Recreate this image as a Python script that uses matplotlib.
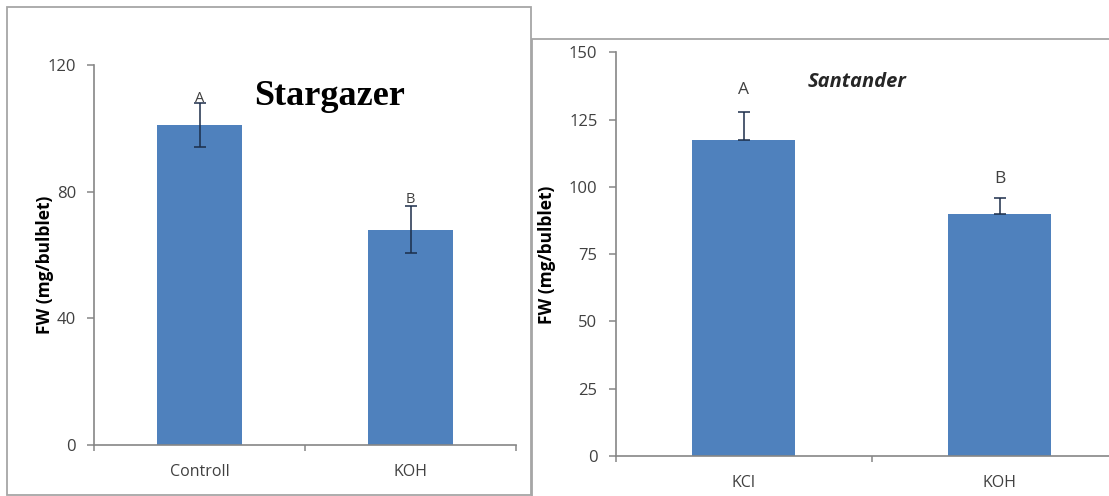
import matplotlib.pyplot as plt
from matplotlib.patches import Rectangle

# Stargazer panel
star_groups = ['Controll', 'KOH']
star_fw = [101, 68]
star_err = [7, 7.5]
star_letters = ['A', 'B']
star_letter_y = [109.5, 77.4]

# Santander panel
sant_groups = ['KCl', 'KOH']
sant_fw = [117.5, 90]
sant_err = [10.5, 6]
sant_letters = ['A', 'B']
sant_letter_y = [136, 102.8]

W, H = 1109, 496
BAR = '#4F81BD'
AXIS = '#868686'
TXT = '#404040'
FONT = ['Open Sans', 'DejaVu Sans']


def px_rect(x0, y0, x1, y1):
    """Convert pixel box (top-left origin) to figure fraction [l, b, w, h]."""
    return [x0 / W, 1 - y1 / H, (x1 - x0) / W, (y1 - y0) / H]


def style_axes(ax, ymax, yticks):
    ax.set_xlim(-0.5, 1.5)
    ax.set_ylim(0, ymax)
    ax.set_yticks(yticks)
    for s in ['top', 'right']:
        ax.spines[s].set_visible(False)
    for s in ['left', 'bottom']:
        ax.spines[s].set_color(AXIS)
        ax.spines[s].set_linewidth(1.2)
    ax.tick_params(axis='y', direction='out', length=5, width=1.1, color=AXIS,
                   pad=8, labelsize=12, labelcolor=TXT)
    ax.set_xticks([0, 1])
    ax.set_xticks([-0.5, 0.5, 1.5], minor=True)
    ax.tick_params(axis='x', which='major', length=0, pad=14, labelsize=11.5,
                   labelcolor=TXT)
    ax.tick_params(axis='x', which='minor', direction='out', length=4, width=1.1,
                   color=AXIS)
    ax.patch.set_alpha(0)
    for lab in ax.get_xticklabels() + ax.get_yticklabels():
        lab.set_family(FONT)


fig = plt.figure(figsize=(W / 100, H / 100), dpi=100)

# panel frames
fig.add_artist(Rectangle((7 / W, 1 - 495 / H), (531 - 7) / W, (495 - 6.5) / H,
                         transform=fig.transFigure, fill=False,
                         edgecolor='#a6a6a6', linewidth=1.3))
fig.add_artist(Rectangle((532 / W, 1 - 520 / H), 600 / W, (520 - 39) / H,
                         transform=fig.transFigure, fill=False,
                         edgecolor='#a6a6a6', linewidth=1.3))

# left: Stargazer
ax1 = fig.add_axes(px_rect(94, 65, 516, 445))
ax1.bar(range(2), star_fw, width=0.4, color=BAR, zorder=2)
ax1.errorbar(range(2), star_fw, yerr=star_err, fmt='none', ecolor='#1c2e4a',
             elinewidth=1.1, capsize=4, capthick=1.1, zorder=3)
style_axes(ax1, 120, [0, 40, 80, 120])
ax1.set_xticklabels(star_groups)
for i, (t, y) in enumerate(zip(star_letters, star_letter_y)):
    ax1.text(i, y, t, ha='center', va='center', fontsize=10.5, color=TXT,
             family=FONT, zorder=4)
ax1.text(0.618, 110, 'Stargazer', ha='center', va='center', fontsize=26,
         fontweight='bold', family='Liberation Serif', color='black')
ax1.set_ylabel('FW (mg/bulblet)', fontsize=12.5, fontweight='bold', family=FONT,
               color='black')
ax1.yaxis.set_label_coords(-0.095, 0.474)

# right: Santander
ax2 = fig.add_axes(px_rect(615.5, 52.3, 1127.5, 456))
ax2.bar(range(2), sant_fw, width=0.4, color=BAR, zorder=2)
ax2.errorbar(range(2), sant_fw, yerr=[[0, 0], sant_err], fmt='none',
             ecolor='#1c2e4a', elinewidth=1.1, capsize=4, capthick=1.1, zorder=3)
style_axes(ax2, 150, [0, 25, 50, 75, 100, 125, 150])
ax2.set_xticklabels(sant_groups)
for i, (t, y) in enumerate(zip(sant_letters, sant_letter_y)):
    ax2.text(i, y, t, ha='center', va='center', fontsize=12.5, color=TXT,
             family=FONT, zorder=4)
ax2.text(0.443, 138.8, 'Santander', ha='center', va='center', fontsize=14.5,
         fontweight='bold', style='italic', family=FONT, color='#262626')
ax2.set_ylabel('FW (mg/bulblet)', fontsize=12.5, fontweight='bold', family=FONT,
               color='black')
ax2.yaxis.set_label_coords(-0.117, 0.4975)

fig.savefig('out.png', dpi=100)
